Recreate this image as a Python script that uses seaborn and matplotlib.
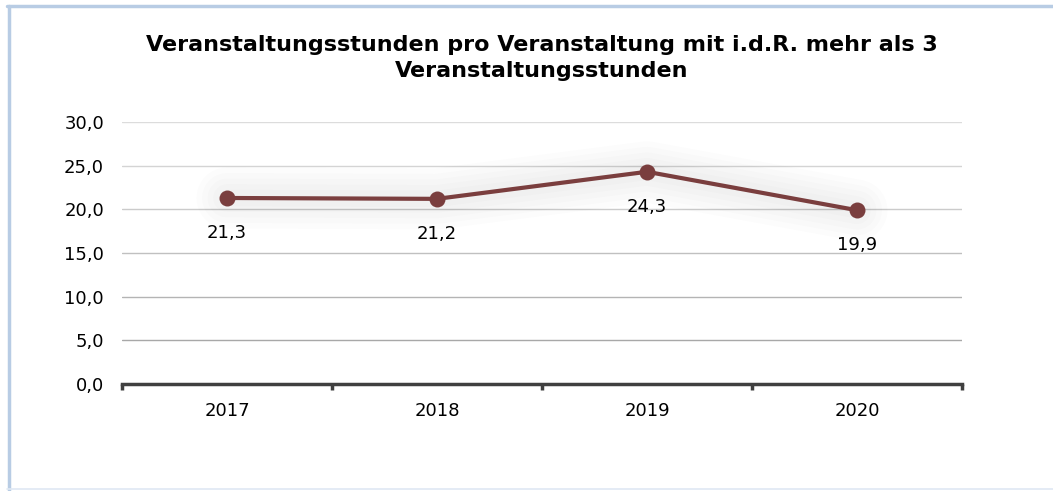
import matplotlib.pyplot as plt
import matplotlib.patheffects as pe
import numpy as np
import pandas as pd
import seaborn as sns
from matplotlib.ticker import FuncFormatter, FixedLocator

years = ["2017", "2018", "2019", "2020"]
stunden = [21.3, 21.2, 24.3, 19.9]
y_ticks = [0, 5, 10, 15, 20, 25, 30]

title = "Veranstaltungsstunden pro Veranstaltung mit i.d.R. mehr als 3\nVeranstaltungsstunden"
line_color = "#7a3e3e"

sns.set_theme(style="white")
plt.rcParams["font.family"] = ["DejaVu Sans"]
plt.rcParams["text.color"] = "black"

df = pd.DataFrame({"Jahr": years, "Stunden": stunden})

fig = plt.figure(figsize=(10.53, 4.91), dpi=100)
ax = fig.add_axes([122 / 1053, 1 - 384 / 491, 840 / 1053, 262 / 491])

# diffuse shadow under the line (line only, no markers)
shadow = [pe.Stroke(linewidth=w, foreground="#000000", alpha=0.012) for w in (44, 36, 28, 20, 12)]
sns.lineplot(data=df, x="Jahr", y="Stunden", ax=ax, color="#000000", linewidth=0, sort=False,
             path_effects=shadow, zorder=2)

sns.lineplot(data=df, x="Jahr", y="Stunden", ax=ax, color=line_color, linewidth=3,
             marker="o", markersize=11.5, markeredgewidth=0, sort=False, zorder=5)

ax.set_xlim(-0.5, len(years) - 0.5)
ax.set_ylim(0, 30)
ax.set_xlabel("")
ax.set_ylabel("")

# gridlines that darken towards the bottom
grid_colors = ["#a0a0a0", "#a8a8a8", "#b4b4b4", "#c0c0c0", "#cbcbcb", "#d4d4d4", "#dcdcdc"]
for v, c in zip(y_ticks[1:], grid_colors[1:]):
    ax.axhline(v, color=c, linewidth=1, zorder=1)

for s in ["top", "right", "left"]:
    ax.spines[s].set_visible(False)
ax.spines["bottom"].set_color("#404040")
ax.spines["bottom"].set_linewidth(2.5)
ax.spines["bottom"].set_zorder(6)

ax.yaxis.set_major_locator(FixedLocator(y_ticks))
ax.yaxis.set_major_formatter(FuncFormatter(lambda v, p: f"{v:.1f}".replace(".", ",")))
ax.tick_params(axis="y", length=0, pad=13, labelsize=13, labelcolor="black")

ax.set_xticks(range(len(years)))
ax.set_xticklabels(years)
ax.tick_params(axis="x", length=0, pad=13, labelsize=13, labelcolor="black")
ax.set_xticks(np.arange(-0.5, len(years)), minor=True)
ax.tick_params(axis="x", which="minor", bottom=True, length=4, width=2.5, color="#404040", direction="out")

for i, v in enumerate(stunden):
    ax.annotate(f"{v:.1f}".replace(".", ","), (i, v), xytext=(0, -25), textcoords="offset points",
                ha="center", va="center", fontsize=13, color="black", zorder=7)

fig.text(542 / 1053, 1 - 58 / 491, title, ha="center", va="center", fontsize=16,
         fontweight="bold", linespacing=1.35, color="black")

# light blue frame
frame = "#b8cce4"
fig.add_artist(plt.Line2D([7 / 1053, 1], [1 - 6 / 491] * 2, color=frame, linewidth=2.5, transform=fig.transFigure))
fig.add_artist(plt.Line2D([8.5 / 1053] * 2, [0, 1 - 6 / 491], color=frame, linewidth=2.5, transform=fig.transFigure))
fig.add_artist(plt.Line2D([7 / 1053, 1], [2 / 491] * 2, color="#dfe8f3", linewidth=1.2, transform=fig.transFigure))

fig.savefig("out.png", dpi=100)
